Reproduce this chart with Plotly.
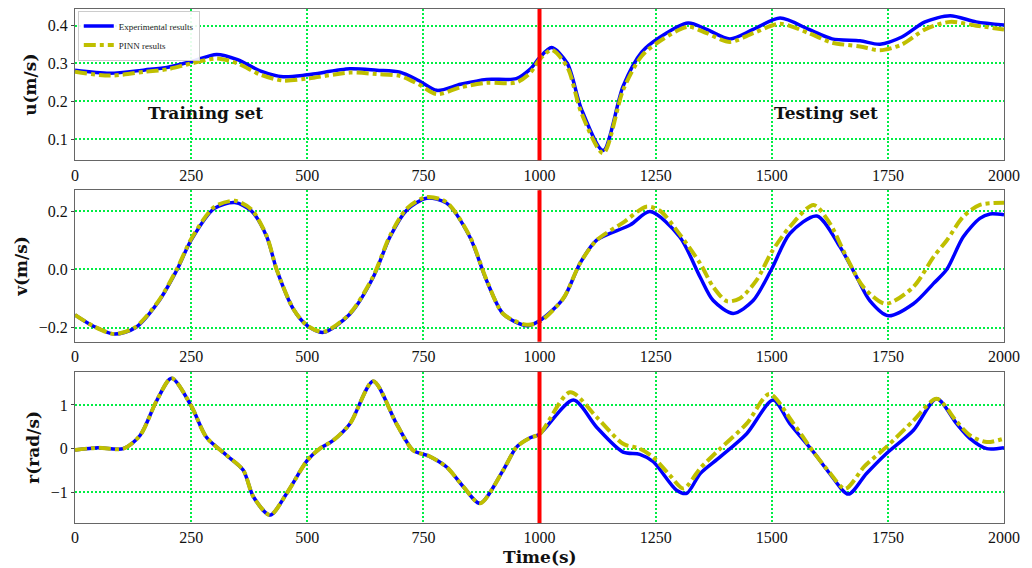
import plotly.graph_objects as go
from plotly.subplots import make_subplots

# ---- data ----
u_t = [0, 75, 150, 200, 250, 305, 350, 400, 448, 500, 592, 650, 700, 740, 779, 830, 886, 950, 980, 1000,
       1026, 1060, 1090, 1137, 1180, 1220, 1260, 1320, 1360, 1410, 1460, 1518, 1580, 1630, 1690, 1733,
       1780, 1830, 1884, 1940, 2000]
u_exp = [0.282, 0.274, 0.283, 0.29, 0.305, 0.324, 0.31, 0.28, 0.265, 0.27, 0.286, 0.282, 0.277, 0.255, 0.229,
         0.245, 0.258, 0.26, 0.285, 0.315, 0.342, 0.3, 0.18, 0.07, 0.24, 0.33, 0.37, 0.407, 0.39, 0.365,
         0.39, 0.42, 0.39, 0.365, 0.36, 0.351, 0.37, 0.41, 0.426, 0.41, 0.402]
u_pinn = [0.278, 0.268, 0.278, 0.285, 0.3, 0.313, 0.3, 0.27, 0.255, 0.26, 0.276, 0.272, 0.267, 0.245, 0.219,
          0.237, 0.249, 0.25, 0.275, 0.31, 0.336, 0.29, 0.17, 0.063, 0.23, 0.32, 0.36, 0.397, 0.38, 0.357,
          0.38, 0.405, 0.38, 0.355, 0.345, 0.335, 0.35, 0.39, 0.41, 0.4, 0.39]

v_t = [0, 40, 85, 130, 180, 220, 250, 300, 344, 380, 413, 434, 470, 500, 535, 592, 642, 678, 714, 757,
       800, 850, 886, 922, 972, 1000, 1051, 1087, 1123, 1195, 1238, 1302, 1346, 1374, 1417, 1460, 1500,
       1539, 1597, 1647, 1683, 1711, 1751, 1805, 1848, 1877, 1912, 1948, 1970, 2000]
v_exp = [-0.156, -0.195, -0.222, -0.2, -0.11, 0.0, 0.1, 0.209, 0.229, 0.2, 0.111, 0.0, -0.136, -0.193, -0.216,
         -0.153, -0.027, 0.111, 0.203, 0.244, 0.227, 0.111, -0.038, -0.153, -0.193, -0.176, -0.101, 0.02,
         0.1, 0.152, 0.198, 0.111, -0.027, -0.107, -0.151, -0.107, 0.002, 0.123, 0.183, 0.077, -0.027,
         -0.107, -0.159, -0.118, -0.049, 0.0, 0.111, 0.175, 0.19, 0.187]
vp_t = [0, 40, 85, 130, 180, 220, 250, 300, 344, 380, 413, 434, 470, 500, 535, 592, 642, 678, 714, 757,
        800, 850, 886, 922, 972, 1000, 1051, 1087, 1123, 1180, 1230, 1260, 1302, 1346, 1374, 1403, 1431,
        1467, 1500, 1539, 1590, 1625, 1661, 1697, 1745, 1805, 1848, 1877, 1912, 1948, 2000]
v_pinn = [-0.156, -0.195, -0.222, -0.198, -0.108, 0.003, 0.104, 0.214, 0.235, 0.205, 0.113, 0.0, -0.136,
          -0.193, -0.214, -0.151, -0.024, 0.115, 0.208, 0.248, 0.23, 0.113, -0.036, -0.153, -0.19, -0.18,
          -0.1, 0.02, 0.1, 0.16, 0.215, 0.2, 0.12, 0.02, -0.06, -0.109, -0.1, -0.038, 0.06, 0.146, 0.221,
          0.158, 0.042, -0.06, -0.118, -0.06, 0.042, 0.1, 0.18, 0.221, 0.228]

r_t = [0, 50, 104, 140, 176, 208, 250, 283, 326, 362, 384, 420, 456, 500, 527, 556, 592, 642, 692, 728,
       762, 800, 836, 872, 922, 951, 980, 1000, 1073, 1123, 1180, 1216, 1245, 1295, 1317, 1346, 1389,
       1446, 1503, 1539, 1590, 1625, 1665, 1704, 1747, 1805, 1855, 1898, 1927, 1963, 2000]
r_exp = [-0.03, 0.02, 0.0, 0.3, 1.1, 1.61, 0.98, 0.26, -0.15, -0.49, -1.1, -1.52, -1.02, -0.27, 0.0, 0.19,
         0.57, 1.54, 0.57, -0.04, -0.17, -0.42, -0.87, -1.25, -0.49, 0.04, 0.25, 0.33, 1.11, 0.49, -0.08,
         -0.13, -0.3, -0.95, -1.02, -0.57, -0.19, 0.34, 1.11, 0.57, -0.08, -0.57, -1.04, -0.57, -0.11,
         0.42, 1.14, 0.57, 0.23, 0.0, 0.02]
rp_t = [0, 50, 104, 140, 176, 208, 250, 283, 326, 362, 384, 420, 456, 500, 527, 556, 592, 642, 692, 728,
        762, 800, 836, 872, 922, 951, 980, 1000, 1066, 1123, 1180, 1216, 1245, 1280, 1310, 1346, 1389,
        1446, 1495, 1545, 1590, 1625, 1658, 1700, 1747, 1805, 1855, 1898, 1927, 1963, 2000]
r_pinn = [-0.03, 0.02, 0.0, 0.3, 1.1, 1.61, 0.98, 0.26, -0.15, -0.49, -1.1, -1.52, -1.02, -0.27, 0.0, 0.19,
          0.57, 1.54, 0.57, -0.04, -0.17, -0.42, -0.87, -1.25, -0.49, 0.04, 0.25, 0.33, 1.29, 0.72, 0.11,
          0.0, -0.2, -0.6, -0.91, -0.45, 0.0, 0.57, 1.25, 0.6, -0.08, -0.55, -0.92, -0.4, 0.04, 0.64, 1.14,
          0.62, 0.3, 0.15, 0.23]

x_ticks = [0, 250, 500, 750, 1000, 1250, 1500, 1750, 2000]
split_t = 1000
y_titles = ["u(m/s)", "v(m/s)", "r(rad/s)"]
y_ranges = [[0.044, 0.444], [-0.248, 0.271], [-1.70, 1.76]]
y_ticks = [[0.1, 0.2, 0.3, 0.4], [-0.2, 0.0, 0.2], [-1, 0, 1]]
y_ticktext = [["0.1", "0.2", "0.3", "0.4"], ["\u22120.2", "0.0", "0.2"], ["\u22121", "0", "1"]]

BLUE = "#0000ff"
OLIVE = "#bfbf00"
GRID = "#00ee44"
FONT = "Liberation Serif"
BFONT = "DejaVu Serif"

fig = make_subplots(rows=3, cols=1, vertical_spacing=0.0583)

series = [(u_t, u_exp, u_t, u_pinn), (v_t, v_exp, vp_t, v_pinn), (r_t, r_exp, rp_t, r_pinn)]
for i, (te, ye, tp, yp) in enumerate(series, start=1):
    fig.add_trace(go.Scatter(x=te, y=ye, mode="lines", name="Experimental results",
                             line=dict(color=BLUE, width=3.5, shape="spline", smoothing=0.8),
                             showlegend=(i == 1)), row=i, col=1)
    fig.add_trace(go.Scatter(x=tp, y=yp, mode="lines", name="PINN results",
                             line=dict(color=OLIVE, width=4, dash="dashdot", shape="spline", smoothing=0.8),
                             showlegend=(i == 1)), row=i, col=1)
    fig.update_xaxes(range=[0, 2000], tickvals=x_ticks, showgrid=True, gridcolor=GRID, griddash="2px,2px",
                     gridwidth=1.5, showline=True, linecolor="#666", linewidth=1, mirror=True,
                     ticks="", zeroline=False, automargin=False,
                     tickfont=dict(family=FONT, size=16, color="#111"), row=i, col=1)
    fig.update_yaxes(range=y_ranges[i - 1], tickvals=y_ticks[i - 1], ticktext=y_ticktext[i - 1],
                     showgrid=True, gridcolor=GRID, griddash="2px,2px", gridwidth=1.5,
                     showline=True, linecolor="#666", linewidth=1, mirror=True,
                     ticks="outside", ticklen=3, tickcolor="#444", zeroline=False, automargin=False,
                     tickfont=dict(family=FONT, size=16, color="#111"),
                     title=dict(text="<b>" + y_titles[i - 1] + "</b>", font=dict(family=BFONT, size=17, color="#111"),
                                standoff=6),
                     row=i, col=1)
    yref = "y domain" if i == 1 else f"y{i} domain"
    xref = "x" if i == 1 else f"x{i}"
    fig.add_shape(type="line", x0=split_t, x1=split_t, y0=0, y1=1, xref=xref, yref=yref,
                  line=dict(color="#ff0000", width=4))

# x-axis title placed below the bottom panel's tick labels
fig.add_annotation(x=0.5, y=-0.066, xref="paper", yref="paper", text="<b>Time(s)</b>", showarrow=False,
                   xanchor="center", yanchor="middle", font=dict(family=BFONT, size=17, color="#111"))

fig.add_annotation(x=280, y=0.168, xref="x", yref="y", text="<b>Training set</b>", showarrow=False,
                   font=dict(family=BFONT, size=17, color="#111"))
fig.add_annotation(x=1617, y=0.168, xref="x", yref="y", text="<b>Testing set</b>", showarrow=False,
                   font=dict(family=BFONT, size=17, color="#111"))

fig.update_layout(
    width=1032, height=568,
    margin=dict(l=75, r=28, t=9, b=45),
    plot_bgcolor="white", paper_bgcolor="white",
    legend=dict(x=0.003, y=0.997, xanchor="left", yanchor="top", bgcolor="rgba(255,255,255,0.9)",
                bordercolor="#cccccc", borderwidth=1, font=dict(family=FONT, size=9, color="#222"),
                tracegroupgap=0, itemwidth=30),
)

fig.write_html("out.html", config={"displayModeBar": False},
               post_script="document.body.style.margin='0px';document.body.style.overflow='hidden';")
